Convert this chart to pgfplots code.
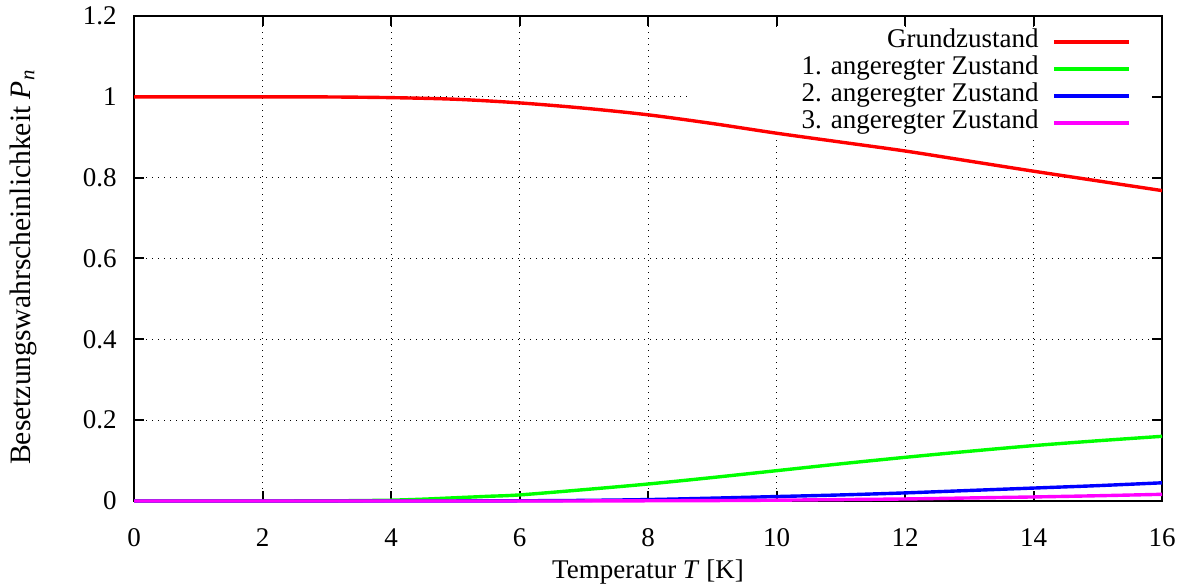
\documentclass[border=0pt]{standalone}
\usepackage{fontspec}
\setmainfont{Liberation Serif}
\usepackage{pgfplots}
\pgfplotsset{compat=1.18}
\definecolor{gpred}{RGB}{255,0,0}
\definecolor{gpgreen}{RGB}{0,255,0}
\definecolor{gpblue}{RGB}{0,0,255}
\definecolor{gpmag}{RGB}{255,0,255}
\begin{document}
\fontsize{13.5pt}{16pt}\selectfont
\begin{tikzpicture}
\begin{axis}[
  name=ax, set layers, scale only axis, clip=false,
  width=514pt, height=242.5pt,
  xmin=0, xmax=16, ymin=0, ymax=1.2,
  xtick={0,2,4,6,8,10,12,14,16},
  ytick={0,0.2,0.4,0.6,0.8,1,1.2},
  /pgf/number format/assume math mode=true,
  grid=major,
  major grid style={black, line width=0.5pt, dash pattern=on 0.5pt off 2.5pt},
  major tick length=5pt,
  tick style={black, line width=1pt},
  axis line style={black, line width=1.2pt},
  xticklabel style={anchor=base, yshift=-23pt},
  yticklabel style={anchor=east, inner xsep=0pt, xshift=-8.5pt},
  xlabel={Temperatur \textit{T} [K]},
  xlabel style={at={(axis description cs:0.5,-0.159)}, anchor=base},
  ylabel={Besetzungswahrscheinlichkeit \textit{P}\textsubscript{\textit{n}}},
  ylabel style={at={(axis description cs:-0.108,0.482)}, anchor=center, font=\fontsize{14.8pt}{17pt}\selectfont},
  legend cell align=right,
  legend plot pos=right,
  legend image code/.code={\path (0pt,0pt); \draw[#1] (7pt,0pt) -- (44.5pt,0pt);},
  legend style={draw=none, fill=none, at={(rel axis cs:0.976,0.983)}, anchor=north east,
    row sep=0pt, nodes={inner sep=0pt, text height=9.5pt, text depth=4pt}},
]
\begin{pgfonlayer}{pre main}
\fill[white] (rel axis cs:0.5409,0.7505) rectangle (rel axis cs:0.9883,0.9753);
\end{pgfonlayer}
\addplot[gpred, line width=1.7pt, smooth] coordinates {
(0,1) (1,1) (2,1) (3,0.9997) (4,0.998) (5,0.994) (6,0.985) (7,0.972) (8,0.9555)
(9,0.934) (10,0.91) (11,0.888) (12,0.866) (13,0.841) (14,0.816) (15,0.792) (16,0.768)};
\addlegendentry{Grundzustand}
\addplot[gpgreen, line width=1.7pt, smooth] coordinates {
(0,0) (1,0) (2,0) (3,0.0003) (3.5,0.001) (4,0.002) (4.5,0.0045) (5,0.008) (5.5,0.0115)
(6,0.015) (7,0.028) (8,0.042) (9,0.058) (10,0.075) (11,0.092) (12,0.108) (13,0.123)
(14,0.137) (15,0.149) (16,0.16)};
\addlegendentry{1. angeregter Zustand}
\addplot[gpblue, line width=1.7pt, smooth] coordinates {
(0,0) (1,0) (2,0) (3,0) (4,0) (5,0.0001) (6,0.0005) (7,0.0015) (8,0.0035) (9,0.007)
(10,0.011) (11,0.015) (12,0.02) (13,0.026) (14,0.032) (15,0.038) (16,0.045)};
\addlegendentry{2. angeregter Zustand}
\addplot[gpmag, line width=1.7pt, smooth] coordinates {
(0,0) (1,0) (2,0) (3,0) (4,0) (5,0) (6,0) (7,0.0001) (8,0.0005) (9,0.001)
(10,0.002) (11,0.0035) (12,0.005) (13,0.0075) (14,0.01) (15,0.013) (16,0.0165)};
\addlegendentry{3. angeregter Zustand}
\end{axis}
\pgfresetboundingbox
\useasboundingbox ([xshift=-67pt,yshift=-43pt]ax.south west) rectangle ([xshift=11pt,yshift=8pt]ax.north east);
\end{tikzpicture}
\end{document}
